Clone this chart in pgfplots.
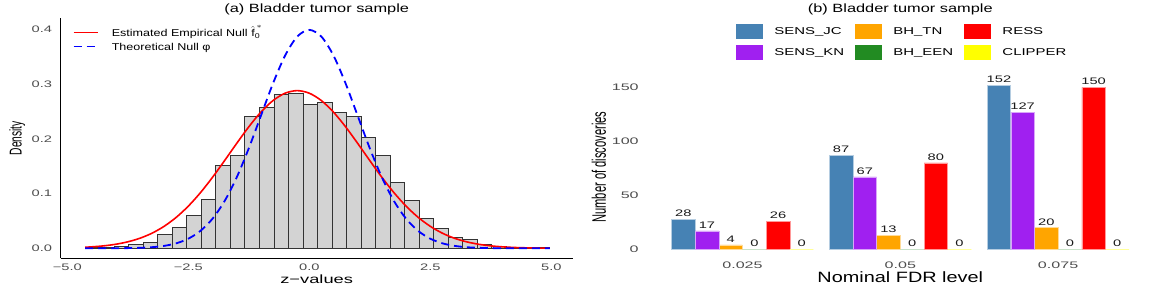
\documentclass[border=0pt]{standalone}
\usepackage{fontspec}
\setmainfont{Liberation Sans}
\usepackage{amsmath}
\usepackage{graphicx}
\usepackage{pgfplots}
\pgfplotsset{compat=1.18}
\definecolor{sblue}{HTML}{4682B4}
\definecolor{spurple}{HTML}{A020F0}
\definecolor{sorange}{HTML}{FFA500}
\definecolor{sgreen}{HTML}{228B22}
\definecolor{sred}{HTML}{FF0000}
\definecolor{syellow}{HTML}{FFFF00}
\definecolor{tickgray}{HTML}{4D4D4D}
\definecolor{histgray}{HTML}{D3D3D3}
\begin{document}
\begin{tikzpicture}
\useasboundingbox (0,0) rectangle (1163bp,289bp);
% ---------------- Panel (a) ----------------
\begin{axis}[
  at={(60.7bp,30.7bp)}, anchor=south west,
  scale only axis, width=512bp, height=240bp,
  xmin=-5.136, xmax=5.442, ymin=-0.01826, ymax=0.4201,
  axis lines*=left, axis line style={-, black, line width=1.2bp},
  major tick length=0pt,
  xtick={-5,-2.5,0,2.5,5}, xticklabels={−5.0,−2.5,0.0,2.5,5.0},
  ytick={0,0.1,0.2,0.3,0.4}, yticklabels={0.0,0.1,0.2,0.3,0.4},
  tick label style={font=\fontsize{9.5}{11}\selectfont, text=tickgray, inner sep=0pt},
  xticklabel style={anchor=center, yshift=-9.4bp, xscale=1.55},
  yticklabel style={anchor=east, xshift=-8.4bp, xscale=1.55},
  title={(a) Bladder tumor sample},
  title style={at={(0.5,1.0367)}, anchor=center, yshift=-6pt, font=\fontsize{12}{14}\selectfont, inner sep=0pt, xscale=1.37},
  xlabel={z−values},
  xlabel style={at={(0.5,-0.0863)}, anchor=center, font=\fontsize{12}{14}\selectfont, inner sep=0pt, xscale=1.53},
  ylabel={Density},
  ylabel style={at={(-0.085,0.5)}, anchor=center, font=\fontsize{10.3}{12}\selectfont, inner sep=0pt, yscale=1.67},
  legend style={at={(0.0234,0.956)}, anchor=north west, draw=none, fill=none, inner sep=0pt, outer sep=0pt,
    row sep=6.8bp, font=\fontsize{10}{12}\selectfont,
    nodes={inner sep=0pt, text height=7.2bp, text depth=0bp},
    /tikz/every odd column/.append style={column sep=13.3bp}},
  legend cell align=left,
  legend image code/.code={\draw[#1] (0bp,0bp) -- (24bp,0bp);},
]
\addplot[ybar interval, fill=histgray, draw=black!80, line width=0.9bp, forget plot] coordinates {
(-4.63,0.0015) (-4.33,0.002) (-4.03,0.004) (-3.73,0.0073) (-3.43,0.0104) (-3.13,0.0244)
(-2.83,0.0377) (-2.53,0.0603) (-2.23,0.0895) (-1.93,0.151) (-1.63,0.169) (-1.33,0.240)
(-1.03,0.257) (-0.73,0.281) (-0.43,0.2825) (-0.13,0.262) (0.17,0.266) (0.47,0.248)
(0.77,0.240) (1.07,0.203) (1.37,0.169) (1.67,0.120) (1.97,0.087) (2.27,0.054)
(2.57,0.037) (2.87,0.020) (3.17,0.016) (3.47,0.0073) (3.77,0.004) (4.07,0.002)
(4.37,0.001) (4.67,0.001) (4.97,0.001)};
\addplot[sred, line width=1.6bp, smooth] coordinates {
(-4.63,0.00194) (-4.5,0.0026) (-4.25,0.00445) (-4,0.00736) (-3.75,0.01183) (-3.5,0.01834)
(-3.25,0.02757) (-3,0.04012) (-2.75,0.05648) (-2.5,0.07693) (-2.25,0.1015) (-2,0.1296)
(-1.75,0.1602) (-1.5,0.1916) (-1.25,0.2219) (-1,0.2487) (-0.75,0.2698) (-0.5,0.2833)
(-0.25,0.288) (0,0.2833) (0.25,0.2698) (0.5,0.2487) (0.75,0.2219) (1,0.1916)
(1.25,0.1602) (1.5,0.1296) (1.75,0.1015) (2,0.07693) (2.25,0.05648) (2.5,0.04012)
(2.75,0.02757) (3,0.01834) (3.25,0.01183) (3.5,0.00736) (3.75,0.00445) (4,0.0026)
(4.25,0.00147) (4.5,0.0008) (4.75,0.00043) (4.97,0.00024)};
\addlegendentry{\scalebox{1.26}[1]{Estimated Empirical Null $\hat{\text{f}}_{\text{0}}^{\,*}$}}
\addplot[blue, line width=1.8bp, dash pattern=on 8bp off 5bp, smooth] coordinates {
(-4.63,0.00001) (-4.25,0.00005) (-4,0.00013) (-3.75,0.00035) (-3.5,0.00087) (-3.25,0.00203)
(-3,0.00443) (-2.75,0.00909) (-2.5,0.01753) (-2.25,0.03174) (-2,0.05399) (-1.75,0.08628)
(-1.5,0.12952) (-1.25,0.18265) (-1,0.24197) (-0.75,0.30114) (-0.5,0.35207) (-0.25,0.38667)
(0,0.39894) (0.25,0.38667) (0.5,0.35207) (0.75,0.30114) (1,0.24197) (1.25,0.18265)
(1.5,0.12952) (1.75,0.08628) (2,0.05399) (2.25,0.03174) (2.5,0.01753) (2.75,0.00909)
(3,0.00443) (3.25,0.00203) (3.5,0.00087) (3.75,0.00035) (4,0.00013) (4.25,0.00005)
(4.5,0.00002) (4.97,0.0)};
\addlegendentry{\scalebox{1.26}[1]{Theoretical Null φ}}
\end{axis}
% ---------------- Panel (b) ----------------
\begin{axis}[
  at={(647.8bp,31.5bp)}, anchor=south west,
  scale only axis, width=505bp, height=180.6bp,
  xmin=-0.6, xmax=2.6, ymin=-7.6, ymax=159.6,
  axis line style={draw=none}, major tick length=0pt,
  xtick={0,1,2}, xticklabels={0.025,0.05,0.075},
  ytick={0,50,100,150}, yticklabels={0,50,100,150},
  tick label style={font=\fontsize{9.5}{11}\selectfont, text=tickgray, inner sep=0pt},
  xticklabel style={anchor=center, yshift=-8.2bp, xscale=1.7},
  yticklabel style={anchor=east, xshift=-8.8bp, xscale=1.7},
  title={(b) Bladder tumor sample},
  title style={at={(0.5,1.373)}, anchor=center, yshift=-6pt, font=\fontsize{12}{14}\selectfont, inner sep=0pt, xscale=1.37},
  xlabel={Nominal FDR level},
  xlabel style={at={(0.5,-0.108)}, anchor=center, font=\fontsize{15}{17}\selectfont, inner sep=0pt, xscale=1.33},
  ylabel={Number of discoveries},
  ylabel style={at={(-0.097,0.5)}, anchor=center, font=\fontsize{11.2}{13}\selectfont, inner sep=0pt, yscale=1.75},
  legend columns=3,
  legend style={at={(0.1747,1.293)}, anchor=north west, draw=none, fill=none, inner sep=0pt, outer sep=0pt,
    row sep=5.7bp, font=\fontsize{10}{12}\selectfont, nodes={inner sep=0pt},
    /tikz/every odd column/.append style={column sep=11bp},
    /tikz/every even column/.append style={column sep=11bp}},
  legend cell align=left,
  legend image code/.code={\draw[#1, draw=none] (0bp,-7.65bp) rectangle (27.3bp,7.65bp);},
  /pgf/number format/assume math mode=true,
  nodes near coords,
  every node near coord/.append style={font=\fontsize{9.5}{11}\selectfont, text=black!90, inner sep=0pt, anchor=south, yshift=2.3bp, xscale=1.55},
]
% bars placed at group position + dodge offset (0.15 per bar)
\addplot[ybar, bar width=23.6bp, bar shift=0pt, fill=sblue, draw=sblue!40, line width=0.5bp]
  coordinates {(-0.375,28) (0.625,87) (1.625,152)};
\addlegendentry{\scalebox{1.5}[1]{SENS\_JC}}
\addplot[ybar, bar width=23.6bp, bar shift=0pt, fill=sorange, draw=sorange!40, line width=0.5bp]
  coordinates {(-0.075,4) (0.925,13) (1.925,20)};
\addlegendentry{\scalebox{1.5}[1]{BH\_TN}}
\addplot[ybar, bar width=23.6bp, bar shift=0pt, fill=sred, draw=sred!40, line width=0.5bp]
  coordinates {(0.225,26) (1.225,80) (2.225,150)};
\addlegendentry{\scalebox{1.5}[1]{RESS}}
\addplot[ybar, bar width=23.6bp, bar shift=0pt, fill=spurple, draw=spurple!40, line width=0.5bp]
  coordinates {(-0.225,17) (0.775,67) (1.775,127)};
\addlegendentry{\scalebox{1.5}[1]{SENS\_KN}}
\addplot[ybar, bar width=23.6bp, bar shift=0pt, fill=sgreen, draw=sgreen!25, line width=0.5bp]
  coordinates {(0.075,0) (1.075,0) (2.075,0)};
\addlegendentry{\scalebox{1.5}[1]{BH\_EEN}}
\addplot[ybar, bar width=23.6bp, bar shift=0pt, fill=syellow, draw=syellow!40, line width=0.5bp]
  coordinates {(0.375,0) (1.375,0) (2.375,0)};
\addlegendentry{\scalebox{1.5}[1]{CLIPPER}}
\end{axis}
\end{tikzpicture}
\end{document}
